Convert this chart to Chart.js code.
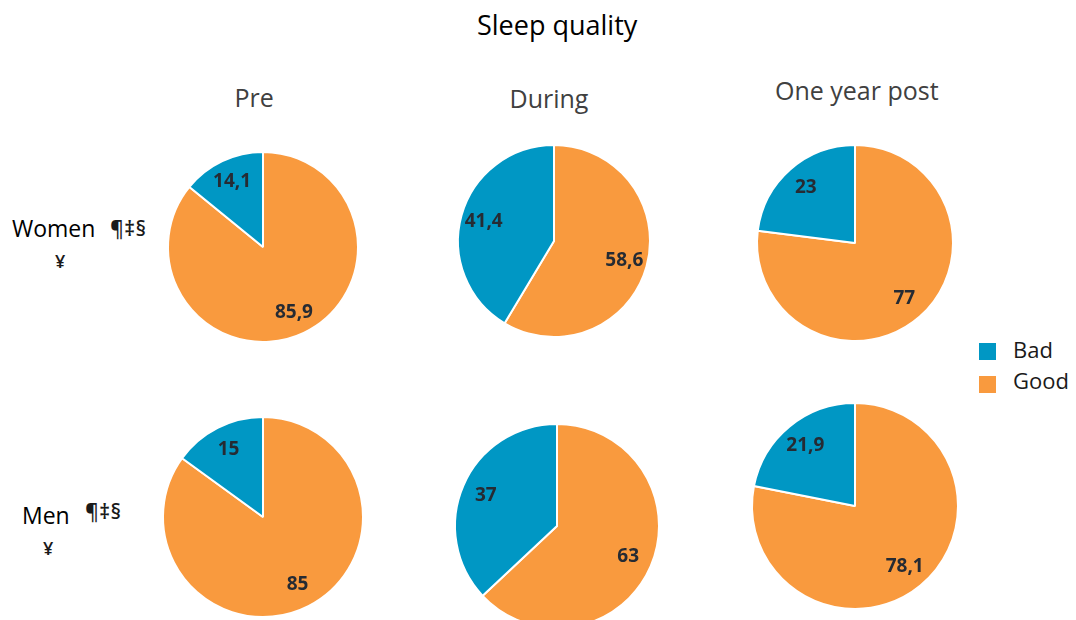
<!DOCTYPE html>
<html>
<head>
<meta charset="utf-8">
<script src="https://cdn.jsdelivr.net/npm/chart.js@4.4.1/dist/chart.umd.min.js"></script>
<style>
  html, body { margin: 0; padding: 0; background: #fff; width: 1076px; height: 620px; overflow: hidden; }
  body { position: relative; font-family: "Open Sans", "DejaVu Sans", sans-serif; }
  .t { position: absolute; line-height: 1; white-space: nowrap; }
  canvas { position: absolute; }
  .sw { position: absolute; width: 17px; height: 17px; }
</style>
</head>
<body>
<script>
// ---- data ----
const chartTitle = 'Sleep quality';
const periods = ['Pre', 'During', 'One year post'];
const groups = ['Women', 'Men'];
const groupMarks = ['¶‡§', '¥'];
const seriesNames = ['Bad', 'Good'];
const womenBad  = [14.1, 41.4, 23];
const womenGood = [85.9, 58.6, 77];
const menBad    = [15, 37, 21.9];
const menGood   = [85, 63, 78.1];

// ---- style / layout ----
const colors = { Bad: '#0097c4', Good: '#f99a3e' };
const pieLayout = [
  [{cx: 263, cy: 247, r: 95}, {cx: 554, cy: 241, r: 96}, {cx: 855, cy: 243, r: 98}],
  [{cx: 263, cy: 517, r: 100}, {cx: 557, cy: 526, r: 102}, {cx: 855, cy: 506, r: 103}]
];
const canvasSize = 240;

function addText(txt, opts) {
  const d = document.createElement('div');
  d.className = 't';
  d.textContent = txt;
  Object.assign(d.style, opts);
  document.body.appendChild(d);
  return d;
}
function centerText(txt, cx, top, size, color) {
  const d = addText(txt, { top: top + 'px', fontSize: size + 'px', color: color });
  d.style.left = (cx - d.offsetWidth / 2) + 'px';
}

// Title + headers
centerText(chartTitle, 557, 11, 27, '#000');
const headerPos = [{cx: 254, top: 85}, {cx: 549, top: 86}, {cx: 857, top: 78}];
periods.forEach((p, i) => centerText(p, headerPos[i].cx, headerPos[i].top, 25, '#404040'));

// Row labels
const markStyle = { fontSize: '21px', color: '#1a1a1a', fontWeight: '600', letterSpacing: '0.5px' };
const yenStyle = { fontSize: '18px', color: '#1a1a1a', fontWeight: '600' };
addText(groups[0], { left: '12px', top: '217px', fontSize: '23px', color: '#000' });
addText(groupMarks[0], Object.assign({ left: '110px', top: '218px' }, markStyle));
addText(groupMarks[1], Object.assign({ left: '55px', top: '252px' }, yenStyle));
addText(groups[1], { left: '22px', top: '504px', fontSize: '23px', color: '#000' });
addText(groupMarks[0], Object.assign({ left: '85px', top: '501px' }, markStyle));
addText(groupMarks[1], Object.assign({ left: '43px', top: '539px' }, yenStyle));

// Legend
seriesNames.forEach((s, i) => {
  const sw = document.createElement('div');
  sw.className = 'sw';
  sw.style.left = '979px';
  sw.style.top = (343 + i * 33) + 'px';
  sw.style.background = colors[s];
  document.body.appendChild(sw);
  addText(s, { left: '1013px', top: (338 + i * 31) + 'px', fontSize: '22px', color: '#1a1a1a' });
});

// Value label plugin
const valueLabels = {
  id: 'valueLabels',
  afterDatasetsDraw(chart) {
    const ctx = chart.ctx;
    const meta = chart.getDatasetMeta(0);
    const ds = chart.data.datasets[0];
    ctx.save();
    ctx.font = 'bold 19px "Open Sans", sans-serif';
    ctx.fillStyle = '#262b33';
    ctx.textAlign = 'center';
    ctx.textBaseline = 'middle';
    meta.data.forEach((arc, i) => {
      const p = arc.getProps(['x', 'y', 'startAngle', 'endAngle', 'outerRadius'], true);
      const mid = (p.startAngle + p.endAngle) / 2;
      const d = p.outerRadius * 0.76;
      const txt = String(ds.data[i]).replace('.', ',');
      ctx.fillText(txt, p.x + Math.cos(mid) * d, p.y + Math.sin(mid) * d);
    });
    ctx.restore();
  }
};

const rows = [[womenGood, womenBad], [menGood, menBad]];
rows.forEach((row, gi) => {
  periods.forEach((p, pi) => {
    const L = pieLayout[gi][pi];
    const c = document.createElement('canvas');
    c.width = canvasSize; c.height = canvasSize;
    c.style.width = canvasSize + 'px'; c.style.height = canvasSize + 'px';
    c.style.left = (L.cx - canvasSize / 2) + 'px';
    c.style.top = (L.cy - canvasSize / 2) + 'px';
    document.body.appendChild(c);
    new Chart(c, {
      type: 'pie',
      data: {
        labels: ['Good', 'Bad'],
        datasets: [{
          data: [row[0][pi], row[1][pi]],
          backgroundColor: [colors.Good, colors.Bad],
          borderColor: '#ffffff',
          borderWidth: 2
        }]
      },
      options: {
        responsive: false,
        animation: false,
        radius: L.r,
        layout: { padding: 0 },
        plugins: { legend: { display: false }, tooltip: { enabled: false }, title: { display: false } }
      },
      plugins: [valueLabels]
    });
  });
});
</script>
</body>
</html>
